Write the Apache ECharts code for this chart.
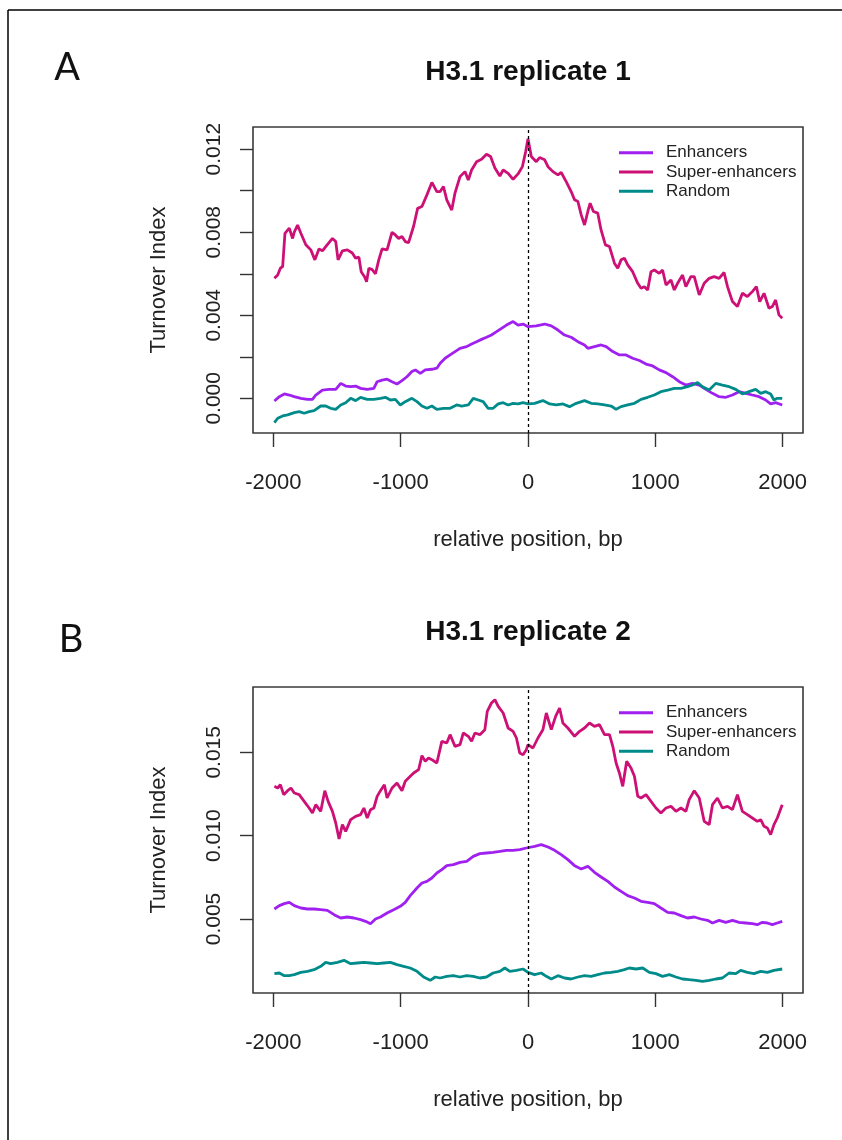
<!DOCTYPE html>
<html>
<head>
<meta charset="utf-8">
<script src="https://cdn.jsdelivr.net/npm/echarts@6/dist/echarts.min.js"></script>
<style>
html,body{margin:0;padding:0;background:#fff;}
#c{width:842px;height:1140px;}
</style>
</head>
<body>
<div id="c"></div>
<script>
// ---------- DATA ----------
const panelTitles = ['H3.1 replicate 1', 'H3.1 replicate 2'];
const panelLetters = ['A', 'B'];
const seriesNames = ['Enhancers', 'Super-enhancers', 'Random'];
const xTicks = [-2000, -1000, 0, 1000, 2000];
const yTicksA = [0, 0.002, 0.004, 0.006, 0.008, 0.010, 0.012];
const yLabelsA = [0, 0.004, 0.008, 0.012];
const yTicksB = [0.005, 0.010, 0.015];
const yLabelsB = [0.005, 0.010, 0.015];

// Panel A (replicate 1): [position bp, turnover index]
const enhA = [[-1992,-0.00013],[-1953,0.00008],[-1914,0.00021],[-1875,0.00016],[-1836,0.00008],[-1784,0.0],[-1732,-0.00005],[-1693,-0.00005],[-1667,0.00016],[-1615,0.0004],[-1563,0.00043],[-1510,0.00043],[-1471,0.00072],[-1432,0.00059],[-1393,0.00056],[-1354,0.00059],[-1315,0.00048],[-1263,0.00043],[-1211,0.00048],[-1185,0.0008],[-1146,0.00088],[-1107,0.00092],[-1068,0.0008],[-1029,0.00069],[-990,0.00085],[-951,0.00104],[-912,0.00129],[-885,0.00137],[-846,0.0012],[-807,0.00137],[-755,0.0014],[-716,0.00145],[-690,0.00169],[-651,0.00193],[-612,0.00209],[-573,0.00225],[-534,0.00241],[-482,0.00249],[-443,0.00262],[-404,0.00273],[-365,0.00284],[-326,0.00294],[-287,0.00305],[-247,0.00321],[-208,0.00337],[-169,0.00353],[-117,0.0037],[-78,0.00353],[-39,0.00358],[0,0.00345],[65,0.00349],[131,0.00358],[183,0.00349],[235,0.00329],[287,0.00305],[339,0.00294],[392,0.00273],[444,0.00257],[470,0.00241],[522,0.00249],[574,0.00257],[614,0.00249],[666,0.00225],[718,0.00209],[770,0.00209],[822,0.00193],[875,0.00182],[927,0.00165],[979,0.00156],[1031,0.00137],[1084,0.00124],[1136,0.00104],[1188,0.0008],[1240,0.00064],[1292,0.00072],[1345,0.00064],[1397,0.00043],[1449,0.00024],[1501,0.00008],[1554,0.00005],[1606,0.00016],[1658,0.00032],[1710,0.00024],[1762,0.00016],[1815,0.00008],[1867,-0.00008],[1906,-0.00027],[1945,-0.00021],[1997,-0.00032]];
const superA = [[-1992,0.00578],[-1966,0.00594],[-1945,0.00627],[-1927,0.00635],[-1909,0.00795],[-1875,0.0082],[-1849,0.0077],[-1836,0.0080],[-1810,0.00835],[-1784,0.00795],[-1745,0.0074],[-1706,0.00715],[-1674,0.00667],[-1641,0.0072],[-1615,0.0071],[-1576,0.0074],[-1536,0.0077],[-1510,0.00755],[-1492,0.00667],[-1458,0.0071],[-1419,0.00715],[-1380,0.0070],[-1354,0.00675],[-1328,0.0068],[-1310,0.0061],[-1284,0.00586],[-1268,0.00562],[-1250,0.00627],[-1224,0.0062],[-1198,0.0060],[-1172,0.00667],[-1146,0.0072],[-1107,0.00715],[-1068,0.0080],[-1042,0.00787],[-1016,0.0077],[-990,0.0078],[-964,0.00755],[-938,0.0075],[-898,0.0083],[-867,0.00915],[-833,0.00924],[-794,0.0098],[-755,0.0104],[-716,0.00996],[-690,0.00996],[-664,0.0102],[-638,0.00956],[-599,0.00907],[-573,0.0099],[-534,0.01068],[-495,0.01092],[-469,0.01052],[-443,0.011],[-404,0.0114],[-365,0.01152],[-326,0.01176],[-294,0.01165],[-260,0.0111],[-221,0.01071],[-195,0.011],[-156,0.01084],[-117,0.01055],[-78,0.01081],[-44,0.01116],[-18,0.01189],[0,0.0125],[26,0.01165],[65,0.0114],[91,0.0116],[131,0.01149],[157,0.01116],[196,0.01092],[235,0.01076],[261,0.01088],[300,0.01044],[339,0.00996],[366,0.00956],[392,0.00948],[418,0.00884],[444,0.00835],[470,0.009],[488,0.0094],[514,0.009],[548,0.00892],[574,0.00811],[608,0.00739],[640,0.00731],[679,0.00651],[705,0.00627],[731,0.00667],[757,0.00675],[783,0.00643],[822,0.0061],[862,0.00554],[888,0.0053],[914,0.00538],[940,0.00522],[966,0.0061],[992,0.00618],[1031,0.00602],[1057,0.00618],[1084,0.00546],[1123,0.0057],[1149,0.00522],[1175,0.00554],[1214,0.00594],[1240,0.00538],[1279,0.00586],[1306,0.00586],[1345,0.00498],[1384,0.00554],[1423,0.00578],[1462,0.00586],[1501,0.00578],[1540,0.00606],[1567,0.00538],[1606,0.00466],[1645,0.00442],[1684,0.00506],[1723,0.0049],[1762,0.00514],[1794,0.00538],[1820,0.00466],[1854,0.00506],[1893,0.00434],[1919,0.00442],[1945,0.00474],[1971,0.00402],[1997,0.00386]];
const randA = [[-1992,-0.00117],[-1966,-0.00096],[-1927,-0.00085],[-1888,-0.0008],[-1836,-0.00069],[-1797,-0.00064],[-1758,-0.00072],[-1719,-0.00064],[-1680,-0.00059],[-1628,-0.00037],[-1589,-0.00037],[-1550,-0.00048],[-1510,-0.00053],[-1471,-0.00032],[-1432,-0.00021],[-1393,0.0],[-1354,-0.00011],[-1315,0.00005],[-1263,-0.00005],[-1211,-0.00005],[-1159,0.0],[-1120,0.00005],[-1081,-0.00008],[-1042,-0.00005],[-1003,-0.00032],[-964,-0.00016],[-912,0.0],[-872,-0.00016],[-833,-0.00037],[-794,-0.00048],[-755,-0.00037],[-716,-0.00053],[-664,-0.00048],[-612,-0.00048],[-560,-0.00032],[-521,-0.00037],[-469,-0.00032],[-430,0.0],[-391,-0.00008],[-352,-0.00016],[-313,-0.00048],[-274,-0.00048],[-234,-0.00027],[-195,-0.00021],[-156,-0.00032],[-117,-0.00024],[-78,-0.00027],[-39,-0.00021],[0,-0.00027],[52,-0.00024],[117,-0.00011],[170,-0.00027],[222,-0.00032],[274,-0.00027],[326,-0.0004],[379,-0.00024],[444,-0.00011],[496,-0.00024],[548,-0.00027],[601,-0.00032],[653,-0.00037],[692,-0.00053],[731,-0.0004],[783,-0.00032],[836,-0.00024],[888,-0.00005],[940,0.00005],[992,0.00016],[1044,0.00032],[1097,0.0004],[1149,0.00048],[1201,0.00048],[1253,0.00056],[1292,0.00064],[1332,0.00076],[1371,0.00056],[1423,0.0004],[1475,0.00072],[1527,0.00064],[1580,0.00056],[1632,0.00043],[1684,0.00021],[1736,0.00032],[1788,0.00043],[1828,0.00024],[1867,0.00032],[1906,0.00021],[1932,-0.00008],[1958,0.0],[1997,0.0]];

// Panel B (replicate 2)
const enhB = [[-1992,0.0056],[-1953,0.0058],[-1914,0.00592],[-1875,0.006],[-1836,0.0058],[-1784,0.00566],[-1732,0.0056],[-1680,0.0056],[-1628,0.00556],[-1576,0.00552],[-1523,0.00526],[-1471,0.00506],[-1419,0.00512],[-1367,0.00506],[-1315,0.00496],[-1276,0.00486],[-1237,0.00472],[-1198,0.005],[-1159,0.00512],[-1107,0.00536],[-1055,0.00556],[-1003,0.00576],[-964,0.006],[-925,0.0064],[-872,0.00686],[-833,0.00716],[-794,0.00726],[-755,0.00746],[-716,0.00776],[-677,0.00796],[-638,0.0082],[-586,0.00826],[-534,0.0084],[-482,0.00846],[-430,0.00876],[-378,0.00892],[-326,0.00896],[-274,0.009],[-221,0.00906],[-169,0.00912],[-117,0.00912],[-65,0.00916],[-13,0.00926],[0,0.00926],[52,0.00936],[104,0.00946],[157,0.00932],[209,0.00912],[261,0.00886],[313,0.00856],[366,0.0082],[418,0.008],[470,0.00816],[522,0.0078],[574,0.00752],[627,0.00726],[679,0.00692],[731,0.00666],[783,0.0064],[836,0.00626],[888,0.00606],[940,0.006],[992,0.00592],[1044,0.00566],[1097,0.0054],[1149,0.00536],[1201,0.0052],[1253,0.00506],[1306,0.00512],[1358,0.005],[1410,0.00492],[1449,0.00476],[1501,0.00492],[1554,0.0048],[1606,0.00492],[1658,0.0048],[1710,0.00476],[1762,0.00472],[1801,0.00466],[1841,0.0048],[1880,0.00476],[1919,0.00466],[1958,0.00476],[1997,0.00486]];
const superB = [[-1992,0.01296],[-1966,0.01286],[-1945,0.01306],[-1919,0.01246],[-1888,0.0127],[-1862,0.01286],[-1836,0.01256],[-1797,0.01246],[-1758,0.01206],[-1719,0.01166],[-1693,0.01136],[-1667,0.01186],[-1628,0.01146],[-1596,0.0127],[-1570,0.01206],[-1536,0.01146],[-1510,0.01076],[-1484,0.0098],[-1458,0.01066],[-1432,0.01026],[-1393,0.01096],[-1354,0.01116],[-1315,0.01126],[-1289,0.01166],[-1263,0.01106],[-1237,0.01156],[-1211,0.01166],[-1185,0.01236],[-1159,0.0127],[-1128,0.01306],[-1107,0.01226],[-1068,0.01286],[-1029,0.01316],[-990,0.0127],[-964,0.01326],[-925,0.01356],[-898,0.01376],[-859,0.01396],[-833,0.0148],[-807,0.01446],[-781,0.01466],[-755,0.01456],[-716,0.01436],[-677,0.01566],[-638,0.01556],[-612,0.01606],[-573,0.01536],[-534,0.01546],[-508,0.01616],[-469,0.01596],[-443,0.01566],[-417,0.01616],[-378,0.01606],[-339,0.01636],[-320,0.01746],[-287,0.01796],[-260,0.01816],[-234,0.01776],[-195,0.01736],[-156,0.01646],[-117,0.01626],[-91,0.01586],[-65,0.01496],[-39,0.01486],[-13,0.01516],[0,0.01546],[39,0.01526],[78,0.01586],[117,0.01636],[144,0.01736],[183,0.01636],[217,0.01716],[248,0.01766],[274,0.01676],[313,0.01646],[366,0.01596],[405,0.01626],[444,0.01646],[483,0.01676],[522,0.01656],[561,0.01666],[601,0.01606],[640,0.01606],[666,0.01536],[692,0.01436],[718,0.01376],[744,0.01296],[775,0.01446],[809,0.01406],[836,0.01356],[862,0.01236],[888,0.01226],[927,0.01246],[966,0.01206],[1005,0.01166],[1044,0.01136],[1084,0.01166],[1123,0.01176],[1162,0.01146],[1201,0.01166],[1240,0.01146],[1266,0.01216],[1306,0.0127],[1345,0.01226],[1384,0.01086],[1423,0.01066],[1449,0.01186],[1488,0.01226],[1527,0.01166],[1567,0.01176],[1606,0.01156],[1645,0.01246],[1684,0.01146],[1723,0.01126],[1762,0.01106],[1801,0.01086],[1828,0.01096],[1854,0.01056],[1880,0.01046],[1906,0.01006],[1932,0.01066],[1958,0.01106],[1997,0.01186]];
const randB = [[-1992,0.00172],[-1953,0.00176],[-1914,0.0016],[-1875,0.0016],[-1836,0.00166],[-1784,0.0018],[-1732,0.00186],[-1680,0.00196],[-1628,0.00216],[-1589,0.0024],[-1550,0.00232],[-1497,0.0024],[-1445,0.00252],[-1393,0.00232],[-1341,0.00236],[-1289,0.0024],[-1237,0.00236],[-1185,0.00232],[-1133,0.00236],[-1081,0.0024],[-1029,0.00226],[-977,0.00216],[-925,0.00206],[-872,0.00186],[-820,0.00152],[-768,0.00132],[-729,0.00152],[-690,0.00146],[-638,0.00156],[-586,0.0016],[-534,0.00152],[-482,0.0016],[-430,0.00156],[-378,0.00146],[-326,0.00152],[-274,0.00176],[-221,0.00186],[-182,0.00206],[-143,0.00186],[-91,0.00192],[-39,0.002],[0,0.0018],[52,0.00166],[104,0.00176],[144,0.00156],[183,0.0014],[235,0.0016],[287,0.00146],[339,0.0014],[392,0.00152],[444,0.0016],[496,0.00156],[548,0.00166],[601,0.00176],[653,0.0018],[705,0.00186],[757,0.00196],[796,0.00206],[849,0.002],[901,0.00206],[953,0.0018],[1005,0.00172],[1057,0.00156],[1110,0.00166],[1162,0.00152],[1214,0.0014],[1266,0.00136],[1319,0.00132],[1371,0.00126],[1423,0.00132],[1475,0.0014],[1527,0.00146],[1580,0.00176],[1632,0.00172],[1671,0.00192],[1723,0.0018],[1775,0.00172],[1828,0.00186],[1880,0.0018],[1932,0.00192],[1997,0.002]];

// ---------- STYLE / LAYOUT ----------
const FONT = "'Liberation Sans', Arial, Helvetica, sans-serif";
const colors = {'Enhancers':'#A020F0','Super-enhancers':'#CD1076','Random':'#008B8B'};
const panels = [
  {top:127, yMin:-0.00167, yMax:0.01307, ticks:yTicksA, labels:yLabelsA, data:[enhA, superA, randA]},
  {top:687, yMin:0.00056, yMax:0.01892, ticks:yTicksB, labels:yLabelsB, data:[enhB, superB, randB]}
];
const GL = 253, GW = 550, GH = 306;

const grids = [], xAxes = [], yAxes = [], series = [], legends = [], graphics = [];

panels.forEach((p, i) => {
  grids.push({left:GL, top:p.top, width:GW, height:GH, show:true, borderColor:'#3a3a3a', borderWidth:1.6, backgroundColor:'transparent', containLabel:false});
  xAxes.push({
    type:'value', gridIndex:i, min:-2160, max:2160, position:'bottom',
    axisLine:{show:false, onZero:false},
    axisTick:{show:true, inside:false, customValues:xTicks, length:14, lineStyle:{color:'#333', width:1.4}},
    axisLabel:{show:true, customValues:xTicks, margin:39, fontSize:22, color:'#222', fontFamily:FONT,
      formatter: v => String(v)},
    splitLine:{show:false}
  });
  yAxes.push({
    type:'value', gridIndex:i, min:p.yMin, max:p.yMax, position:'left',
    axisLine:{show:false, onZero:false},
    axisTick:{show:true, inside:false, customValues:p.ticks, length:13, lineStyle:{color:'#333', width:1.4}},
    axisLabel:{show:true, customValues:p.labels, rotate:90, margin:28, fontSize:21, color:'#222', fontFamily:FONT,
      formatter: v => v.toFixed(3)},
    splitLine:{show:false}
  });
  seriesNames.forEach((name, k) => {
    const s = {
      type:'line', name:name, xAxisIndex:i, yAxisIndex:i, data:p.data[k],
      showSymbol:false, symbol:'none', clip:true,
      lineStyle:{color:colors[name], width:2.8}, itemStyle:{color:colors[name]},
      z: k === 0 ? 3 : (k === 1 ? 2 : 4)
    };
    if (k === 0) {
      s.markLine = {silent:true, symbol:['none','none'], label:{show:false},
        lineStyle:{color:'#000', type:[3,3], width:1.3}, emphasis:{disabled:true},
        data:[{xAxis:0}]};
    }
    series.push(s);
  });
  legends.push({
    orient:'vertical', left:614, top:p.top + 11, itemWidth:34, itemHeight:3, itemGap:0,
    icon:'rect', data:seriesNames, selectedMode:false,
    textStyle:{fontSize:17, color:'#222', fontFamily:FONT, lineHeight:19.3, padding:[0,0,0,8]}
  });
  const cy = p.top + GH/2;
  graphics.push(
    {type:'text', x:528, y:p.top - 55, style:{text:panelTitles[i], fontSize:28, fontWeight:'bold', fontFamily:FONT, fill:'#111', align:'center', verticalAlign:'middle', textAlign:'center', textVerticalAlign:'middle'}},
    {type:'text', x:67 + i*4, y:p.top - 59 + i*12, style:{text:panelLetters[i], fontSize:38, fontFamily:"Lato, 'Open Sans', sans-serif", fill:'#111', align:'center', verticalAlign:'middle', textAlign:'center', textVerticalAlign:'middle'}},
    {type:'text', x:159, y:cy, rotation:Math.PI/2, style:{text:'Turnover Index', fontSize:22, fontFamily:FONT, fill:'#222', align:'center', verticalAlign:'middle', textAlign:'center', textVerticalAlign:'middle'}},
    {type:'text', x:528, y:p.top + GH + 107, style:{text:'relative position, bp', fontSize:22, fontFamily:FONT, fill:'#222', align:'center', verticalAlign:'middle', textAlign:'center', textVerticalAlign:'middle'}}
  );
});

// outer frame (top and left edges)
graphics.push(
  {type:'line', shape:{x1:8, y1:10, x2:842, y2:10}, style:{stroke:'#000', lineWidth:1.5}},
  {type:'line', shape:{x1:8, y1:10, x2:8, y2:1140}, style:{stroke:'#000', lineWidth:1.5}}
);

const chart = echarts.init(document.getElementById('c'), null, {renderer:'canvas'});
chart.setOption({
  animation:false,
  backgroundColor:'#fff',
  grid:grids, xAxis:xAxes, yAxis:yAxes, series:series, legend:legends,
  graphic:{elements:graphics}
});
</script>
</body>
</html>
